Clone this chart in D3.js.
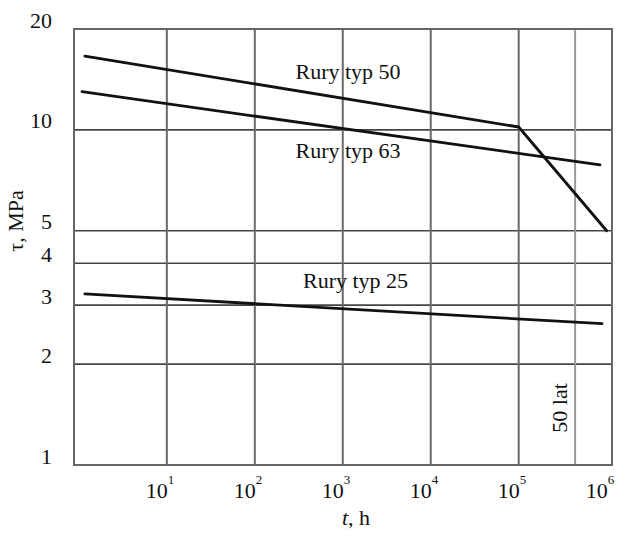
<!DOCTYPE html>
<html>
<head>
<meta charset="utf-8">
<script src="https://cdn.jsdelivr.net/npm/d3@7"></script>
<style>
  html, body { margin: 0; padding: 0; background: #fff; }
  svg { display: block; font-family: "Liberation Serif", "Times New Roman", serif; }
</style>
</head>
<body>
<svg id="chart" width="617" height="537"></svg>
<script>
// ---- data ----
const seriesNames = ["Rury typ 50", "Rury typ 63", "Rury typ 25"];
const typ50 = [[1.17, 16.6], [1e5, 10.2], [1e6, 5.0]];
const typ63 = [[1.085, 13.0], [8.4e5, 7.86]];
const typ25 = [[1.17, 3.24], [8.85e5, 2.64]];
const xTicks = [1e1, 1e2, 1e3, 1e4, 1e5, 1e6];
const xExponents = [1, 2, 3, 4, 5, 6];
const yTicks = [1, 2, 3, 4, 5, 10, 20];
const vGrid = [1e1, 1e2, 1e3, 1e4, 1e5];
const hGrid = [2, 3, 4, 5, 10];
const fiftyYears = 50 * 8760; // h
const labelPos = [[290, 14.2], [290, 8.25], [353, 3.38]];

// ---- layout ----
const svg = d3.select("#chart");
const mLeft = 74, mRight = 612, mTop = 29, mBottom = 465;
const x = d3.scaleLog().domain([0.88, 1.15e6]).range([mLeft, mRight]);
const y = d3.scaleLog().domain([1, 20]).range([mBottom, mTop]);

// grid: horizontal
svg.append("g").selectAll("line").data(hGrid).join("line")
  .attr("x1", mLeft).attr("x2", mRight)
  .attr("y1", d => y(d)).attr("y2", d => y(d))
  .attr("stroke", "#444").attr("stroke-width", 1.6);

// grid: vertical
svg.append("g").selectAll("line").data(vGrid).join("line")
  .attr("x1", d => x(d)).attr("x2", d => x(d))
  .attr("y1", mTop).attr("y2", mBottom)
  .attr("stroke", "#6a6a6a").attr("stroke-width", 2);

// 50 years line
svg.append("line")
  .attr("x1", x(fiftyYears)).attr("x2", x(fiftyYears))
  .attr("y1", mTop).attr("y2", mBottom)
  .attr("stroke", "#999").attr("stroke-width", 2);

// frame
svg.append("rect")
  .attr("x", mLeft).attr("y", mTop)
  .attr("width", mRight - mLeft).attr("height", mBottom - mTop)
  .attr("fill", "none").attr("stroke", "#666").attr("stroke-width", 2);

// axes
const yAxis = svg.append("g").attr("transform", `translate(${mLeft},0)`)
  .call(d3.axisLeft(y).tickValues(yTicks).tickFormat(d3.format("d")).tickSize(0).tickPadding(22));
yAxis.select(".domain").remove();
yAxis.selectAll("text")
  .attr("dy", "-0.09em")
  .attr("font-size", 22).attr("font-family", "Liberation Serif").attr("fill", "#111");

const xAxis = svg.append("g").attr("transform", `translate(0,${mBottom})`)
  .call(d3.axisBottom(x).tickValues(xTicks).tickFormat("").tickSize(0));
xAxis.select(".domain").remove();
xAxis.selectAll("text")
  .attr("y", 33).attr("dy", 0).attr("x", 7)
  .attr("text-anchor", "end")
  .attr("font-size", 22).attr("font-family", "Liberation Serif").attr("fill", "#111")
  .each(function(d, i) {
    const t = d3.select(this);
    t.text("10");
    t.append("tspan").attr("dy", -14).attr("font-size", 13).text(xExponents[i]);
  });

// series lines
const line = d3.line().x(d => x(d[0])).y(d => y(d[1]));
svg.append("g").selectAll("path").data([typ50, typ63, typ25]).join("path")
  .attr("d", line)
  .attr("fill", "none").attr("stroke", "#111").attr("stroke-width", 2.8)
  .attr("stroke-linejoin", "round").attr("stroke-linecap", "round");

// series labels
svg.append("g").selectAll("text").data(seriesNames).join("text")
  .attr("x", (d, i) => x(labelPos[i][0]))
  .attr("y", (d, i) => y(labelPos[i][1]))
  .attr("font-size", 22).attr("fill", "#111")
  .text(d => d);

// 50 lat label
svg.append("text")
  .attr("transform", `translate(${x(fiftyYears) - 8},${y(1.48)}) rotate(-90)`)
  .attr("text-anchor", "middle")
  .attr("font-size", 22).attr("fill", "#111")
  .text("50 lat");

// axis titles
svg.append("text")
  .attr("transform", `translate(23,221) rotate(-90)`)
  .attr("text-anchor", "middle")
  .attr("font-size", 22).attr("fill", "#111")
  .text("τ, MPa");

const xt = svg.append("text")
  .attr("x", 356).attr("y", 525)
  .attr("text-anchor", "middle")
  .attr("font-size", 22).attr("fill", "#111");
xt.append("tspan").attr("font-style", "italic").text("t");
xt.append("tspan").text(", h");
</script>
</body>
</html>
